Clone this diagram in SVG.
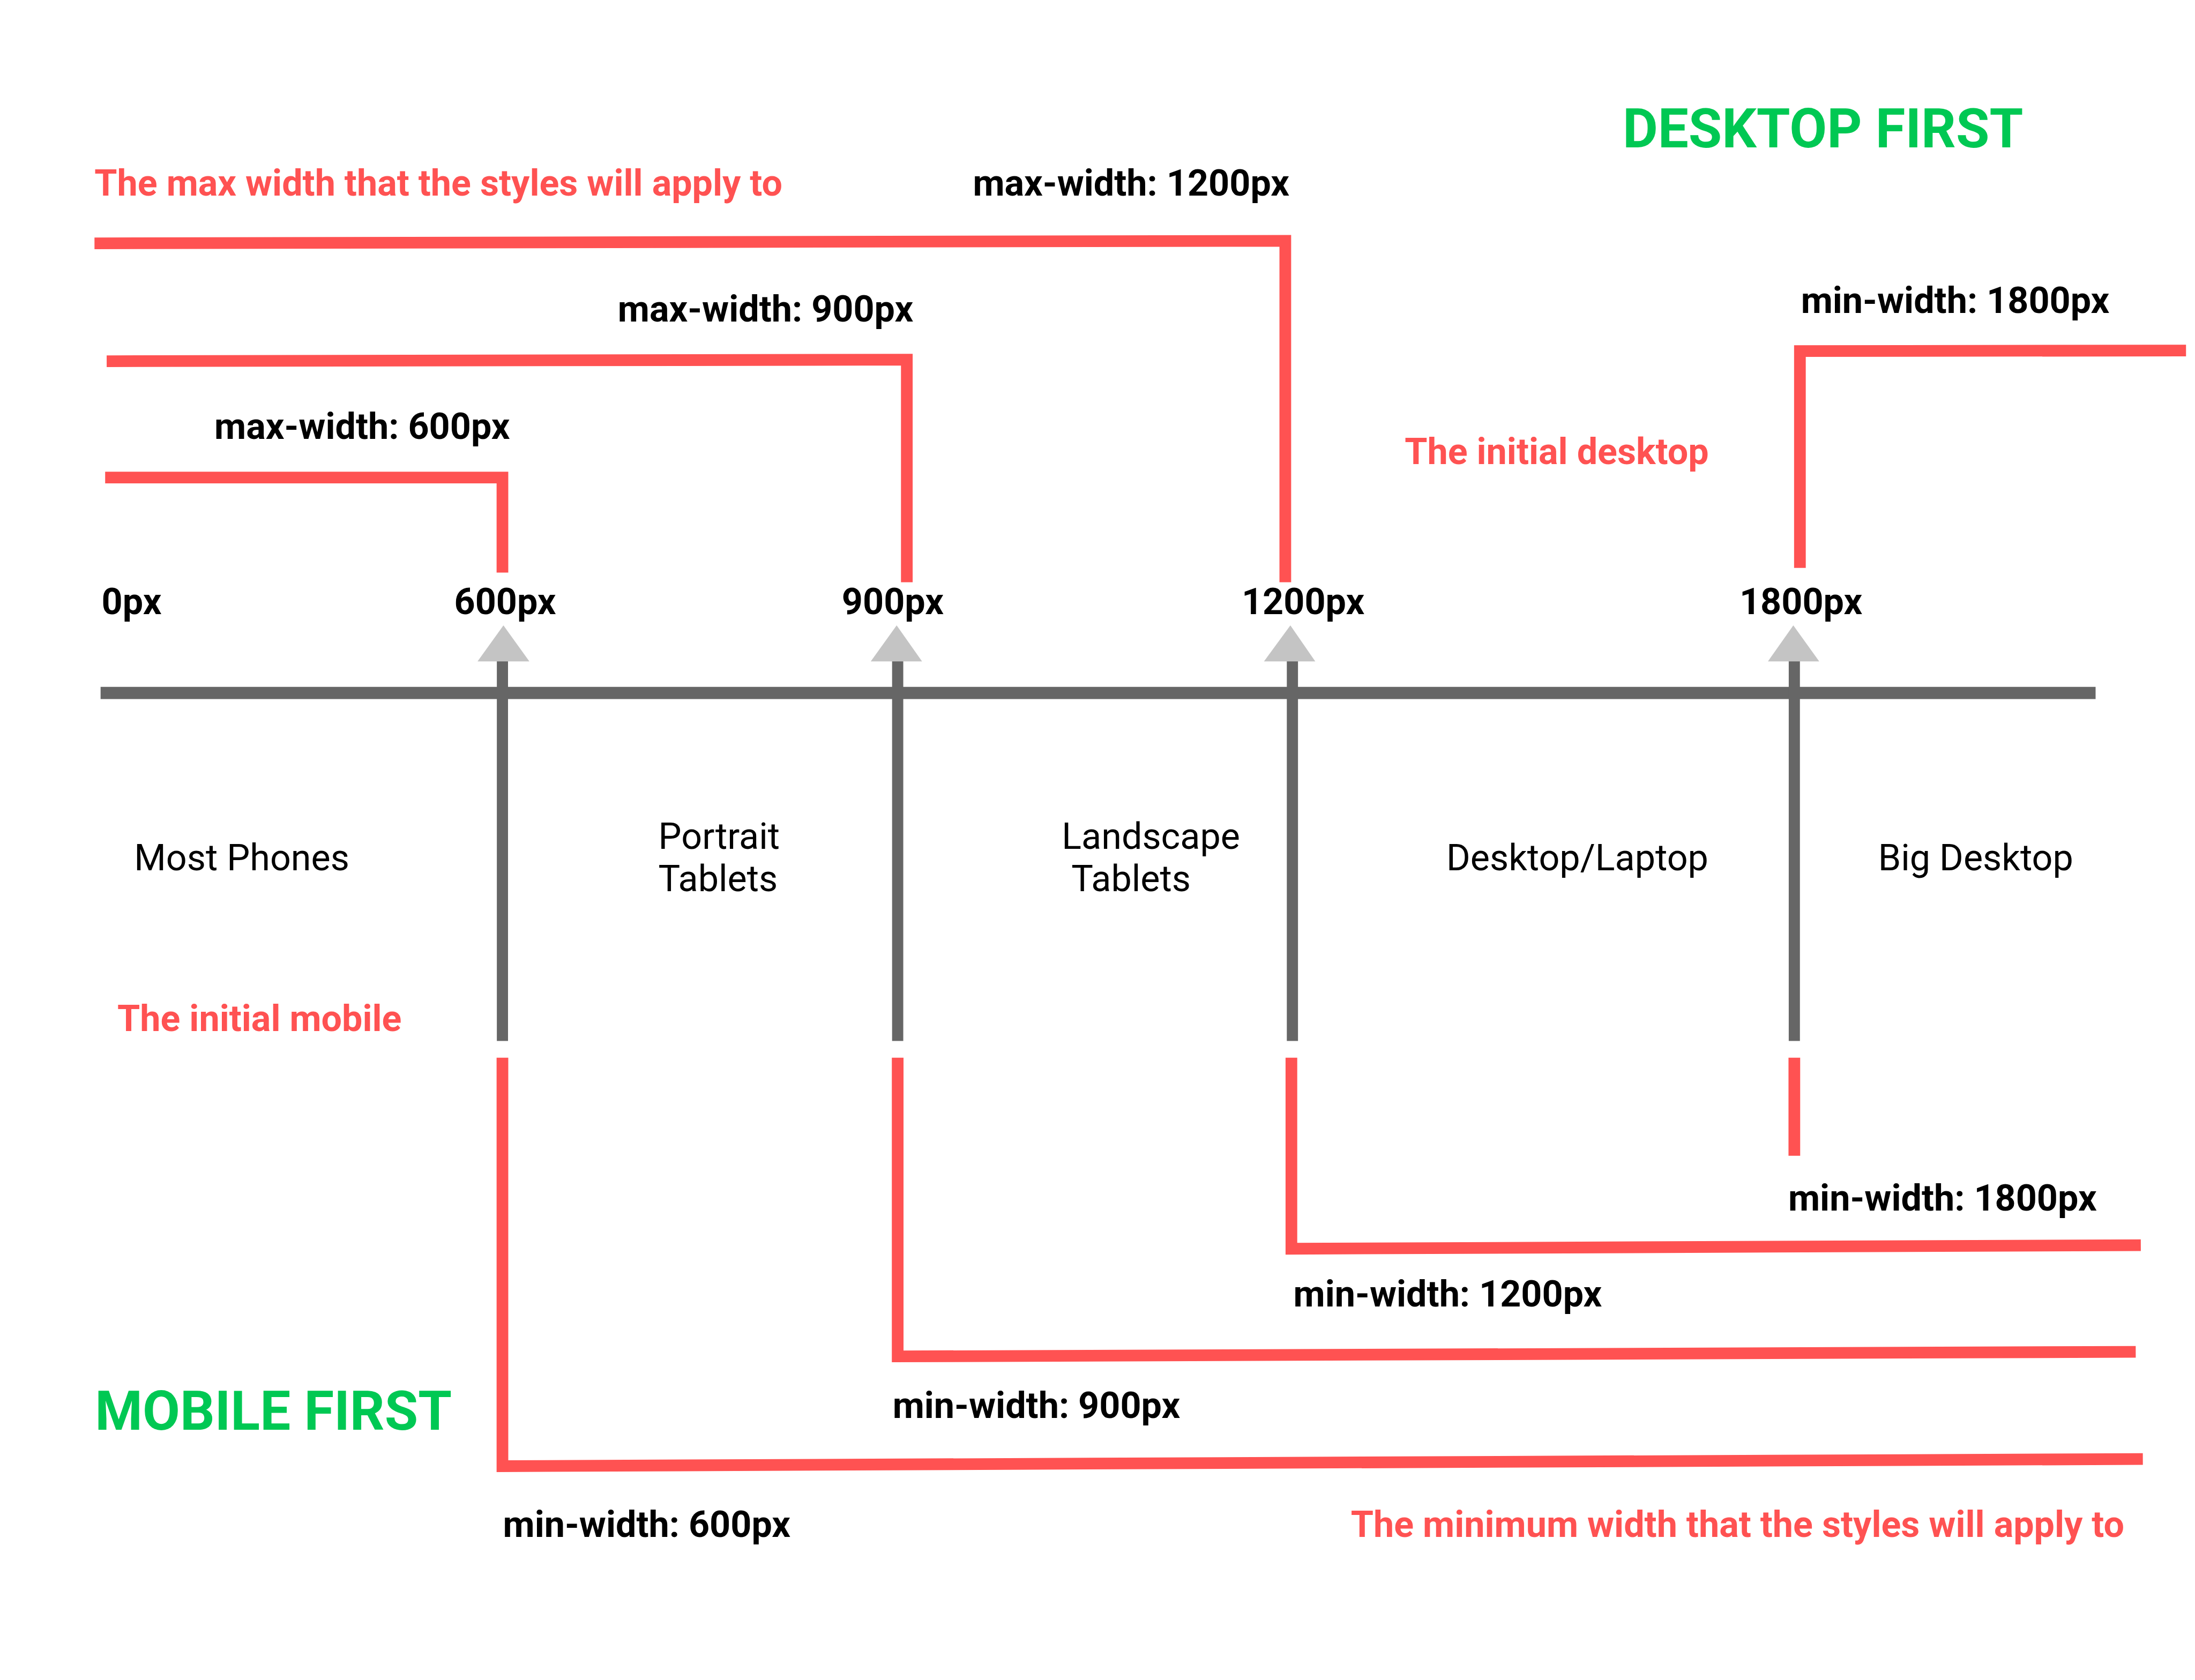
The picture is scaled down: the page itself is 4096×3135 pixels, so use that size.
<svg xmlns="http://www.w3.org/2000/svg" width="4096" height="3135" viewBox="0 0 4096 3135">
<style>
.lbl{font-family:Roboto,"Liberation Sans",sans-serif;font-weight:700;font-size:72px;fill:#000}
.red{font-family:Roboto,"Liberation Sans",sans-serif;font-weight:700;font-size:72px;fill:#FF5252}
.cat{font-family:Roboto,"Liberation Sans",sans-serif;font-weight:400;font-size:72px;fill:#000}
.grn{font-family:Roboto,"Liberation Sans",sans-serif;font-weight:700;font-size:107px;fill:#00C853}
.rl{fill:none;stroke:#FF5252;stroke-width:23;stroke-linejoin:miter}
.tick{stroke:#666;stroke-width:22}
.arr{fill:#C4C4C4}
</style>
<rect width="4096" height="3135" fill="#fff"/>
<g transform="scale(0.948)">
<g id="connectors">
<line id="axis" x1="198" y1="1364" x2="4125" y2="1364" stroke="#666" stroke-width="24"/>
<line class="tick" x1="989" y1="1300" x2="989" y2="2049"/>
<line class="tick" x1="1767" y1="1300" x2="1767" y2="2049"/>
<line class="tick" x1="2544" y1="1300" x2="2544" y2="2049"/>
<line class="tick" x1="3532" y1="1300" x2="3532" y2="2049"/>
<polygon class="arr" points="991,1231 1042,1302 940,1302"/>
<polygon class="arr" points="1765,1231 1815,1302 1714,1302"/>
<polygon class="arr" points="2540,1231 2589,1302 2488,1302"/>
<polygon class="arr" points="3530,1231 3581,1302 3480,1302"/>
<polyline class="rl" points="207,940 989,940 989,1127"/>
<polyline class="rl" points="210,711 1785,708 1785,1146"/>
<polyline class="rl" points="186,479 2530,474 2530,1146"/>
<polyline class="rl" points="3543,1118 3543,691 4303,690"/>
<polyline class="rl" points="989,2082 989,2886 4218,2872"/>
<polyline class="rl" points="1767,2082 1767,2670 4204,2661"/>
<polyline class="rl" points="2542,2082 2542,2458 4214,2451"/>
<line class="rl" x1="3532" y1="2082" x2="3532" y2="2275"/>
</g>
<g id="titles">
<text id="desktop-first" class="grn" x="3194" y="290">DESKTOP FIRST</text>
<text id="mobile-first" class="grn" x="187" y="2814">MOBILE FIRST</text>
</g>
<g id="notes">
<text class="red" x="186" y="385">The max width that the styles will apply to</text>
<text class="red" x="2765" y="913">The initial desktop</text>
<text class="red" x="231" y="2030">The initial mobile</text>
<text class="red" x="2659" y="3025">The minimum width that the styles will apply to</text>
</g>
<g id="max-labels">
<text class="lbl" x="1915" y="385">max-width: 1200px</text>
<text class="lbl" x="1216" y="633">max-width: 900px</text>
<text class="lbl" x="422" y="864">max-width: 600px</text>
<text class="lbl" x="3545" y="616">min-width: 1800px</text>
</g>
<g id="breakpoints">
<text class="lbl" x="200" y="1209">0px</text>
<text class="lbl" x="894" y="1209">600px</text>
<text class="lbl" x="1657" y="1209">900px</text>
<text class="lbl" x="2444" y="1209">1200px</text>
<text class="lbl" x="3424" y="1209">1800px</text>
</g>
<g id="categories">
<text class="cat" x="264" y="1713">Most Phones</text>
<text class="cat" x="1296" y="1671">Portrait</text>
<text class="cat" x="1296" y="1754">Tablets</text>
<text class="cat" x="2090" y="1671">Landscape</text>
<text class="cat" x="2109" y="1754">Tablets</text>
<text class="cat" x="2847" y="1713">Desktop/Laptop</text>
<text class="cat" x="3697" y="1713">Big Desktop</text>
</g>
<g id="min-labels">
<text class="lbl" x="3520" y="2383">min-width: 1800px</text>
<text class="lbl" x="2546" y="2572">min-width: 1200px</text>
<text class="lbl" x="1757" y="2791">min-width: 900px</text>
<text class="lbl" x="990" y="3025">min-width: 600px</text>
</g>
</g>
</svg>
